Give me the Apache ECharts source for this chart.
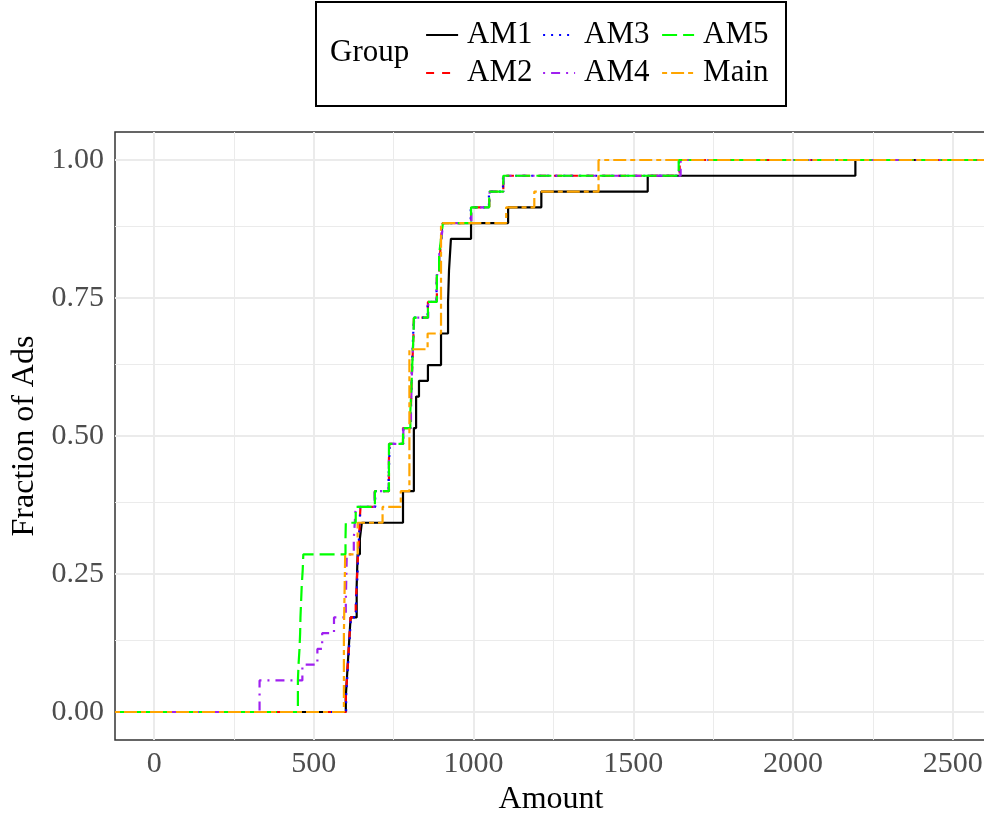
<!DOCTYPE html>
<html>
<head>
<meta charset="utf-8">
<script src="https://cdn.jsdelivr.net/npm/echarts@6/dist/echarts.min.js"></script>
<style>
html,body{margin:0;padding:0;background:#fff;}
#chart{width:984px;height:814px;}
</style>
</head>
<body>
<div id="chart"></div>
<script>
// ---- data (sorted sample amounts, n = 35 per group) ----
var groups = ['AM1', 'AM2', 'AM3', 'AM4', 'AM5', 'Main'];
var AM1 = [600,603,606,609,612,615,634,634,637,637,644,650,779,779,813,813,813,813,820,820,829,857,898,898,920,920,923,923,929,929,992,1108,1212,1545,2195];
var AM2 = [600,603,606,609,612,615,631,634,636,638,642,643,646,691,735,735,736,779,803,805,806,808,810,812,813,857,885,885,895,898,903,992,1049,1093,1645];
var AM3 = [601,604,607,610,613,616,632,635,637,639,641,644,645,692,734,736,737,780,802,804,806,807,809,811,814,856,884,886,894,899,902,991,1048,1092,1643];
var AM4 = [330,330,464,511,526,563,600,601,602,603,625,628,631,690,734,735,736,780,804,805,806,808,810,812,814,858,884,886,893,899,905,993,1050,1094,1648];
var AM5 = [450,450,452,455,457,458,460,462,465,467,599,600,631,691,735,735,735,779,802,804,806,808,810,812,813,857,885,885,892,898,904,992,1049,1093,1642];
var Main = [594,594,594,594,594,598,598,598,598,598,637,637,715,772,799,799,799,799,799,799,799,799,799,856,898,898,898,898,898,898,898,1102,1190,1391,1391];
var groupValues = {AM1: AM1, AM2: AM2, AM3: AM3, AM4: AM4, AM5: AM5, Main: Main};

var xTicks = [0, 500, 1000, 1500, 2000, 2500];
var xMinor = [250, 750, 1250, 1750, 2250];
var yTicks = [0, 0.25, 0.5, 0.75, 1];
var yMinor = [0.125, 0.375, 0.625, 0.875];
var yTickLabels = ['0.00', '0.25', '0.50', '0.75', '1.00'];
var X_MIN = -122.5, X_MAX = 2607;
var Y_MIN = -0.0507, Y_MAX = 1.0507;

// ---- styles ----
var colors = {AM1: '#000000', AM2: '#FF0000', AM3: '#0000FF', AM4: '#A020F0', AM5: '#00FF00', Main: '#FFA500'};
var dashes = {AM1: 'solid', AM2: [8, 8], AM3: [2, 6], AM4: [2, 6, 9, 6], AM5: [15, 6], Main: [5, 4, 13, 4]};
var FONT = 'Liberation Serif';

function ecdf(vals) {
  var s = vals.slice().sort(function (a, b) { return a - b; });
  var n = s.length, pts = [[X_MIN, 0]];
  for (var i = 0; i < n; i++) {
    if (i + 1 < n && s[i + 1] === s[i]) continue;
    pts.push([s[i], (i + 1) / n]);
  }
  pts.push([X_MAX, 1]);
  return pts;
}

var series = [];
// grid lines (drawn from tick arrays)
var gl = [];
xMinor.forEach(function (v) { gl.push({xAxis: v, lineStyle: {color: '#EBEBEB', width: 1, type: 'solid'}}); });
yMinor.forEach(function (v) { gl.push({yAxis: v, lineStyle: {color: '#EBEBEB', width: 1, type: 'solid'}}); });
xTicks.forEach(function (v) { gl.push({xAxis: v, lineStyle: {color: '#EBEBEB', width: 2, type: 'solid'}}); });
yTicks.forEach(function (v) { gl.push({yAxis: v, lineStyle: {color: '#EBEBEB', width: 2, type: 'solid'}}); });
series.push({
  type: 'line', name: '_grid', data: [], z: 1, silent: true,
  markLine: {silent: true, z: 1, zlevel: 0, symbol: 'none', label: {show: false}, animation: false, data: gl}
});

groups.forEach(function (g) {
  series.push({
    name: g, type: 'line', step: 'end', symbol: 'none', showSymbol: false, z: 3,
    data: ecdf(groupValues[g]),
    lineStyle: {color: colors[g], width: 2.2, type: dashes[g], cap: 'butt'},
    itemStyle: {color: colors[g]},
    animation: false
  });
});

var legendPos = {
  AM1: [425, 18], AM3: [542, 18], AM5: [661, 18],
  AM2: [425, 56], AM4: [542, 56], Main: [661, 56]
};
var legends = groups.map(function (g) {
  return {
    data: [g], left: legendPos[g][0], top: legendPos[g][1], padding: 0,
    itemWidth: 32, itemHeight: 14, selectedMode: false,
    lineStyle: {width: 2.2},
    itemStyle: {color: 'transparent', borderColor: 'transparent', borderWidth: 0, opacity: 0},
    textStyle: {fontFamily: FONT, fontSize: 31, color: '#000', lineHeight: 34, padding: [0, 0, 0, 4]}
  };
});

var chart = echarts.init(document.getElementById('chart'));
chart.setOption({
  animation: false,
  backgroundColor: '#fff',
  legend: legends,
  graphic: [
    {type: 'rect', z: -1, shape: {x: 316, y: 2, width: 470, height: 104}, style: {fill: '#fff', stroke: '#000', lineWidth: 2}},
    {type: 'text', left: 330, top: 37, style: {text: 'Group', font: '31px "Liberation Serif"', fill: '#000'}}
  ],
  grid: {left: 115, right: -3, top: 132, bottom: 74, show: true, borderColor: '#333', borderWidth: 1.5,
    backgroundColor: 'transparent', containLabel: false, outerBoundsMode: 'none'},
  xAxis: {
    type: 'value', min: X_MIN, max: X_MAX,
    name: 'Amount', nameLocation: 'middle', nameGap: 40,
    nameTextStyle: {fontFamily: FONT, fontSize: 32, color: '#000'},
    axisLine: {show: false},
    splitLine: {show: false},
    axisTick: {show: true, length: 5, lineStyle: {color: '#333', width: 1.5}, customValues: xTicks},
    axisLabel: {fontFamily: FONT, fontSize: 30, color: '#4D4D4D', margin: 9, customValues: xTicks,
      formatter: function (v) { return String(v); }}
  },
  yAxis: {
    type: 'value', min: Y_MIN, max: Y_MAX,
    name: 'Fraction of Ads', nameLocation: 'middle', nameGap: 74, nameRotate: 90,
    nameTextStyle: {fontFamily: FONT, fontSize: 32, color: '#000'},
    axisLine: {show: false},
    splitLine: {show: false},
    axisTick: {show: true, length: 5, lineStyle: {color: '#333', width: 1.5}, customValues: yTicks},
    axisLabel: {fontFamily: FONT, fontSize: 30, color: '#4D4D4D', margin: 11, customValues: yTicks,
      formatter: function (v) { var i = yTicks.indexOf(v); return i >= 0 ? yTickLabels[i] : v.toFixed(2); }}
  },
  series: series
});
</script>
</body>
</html>
